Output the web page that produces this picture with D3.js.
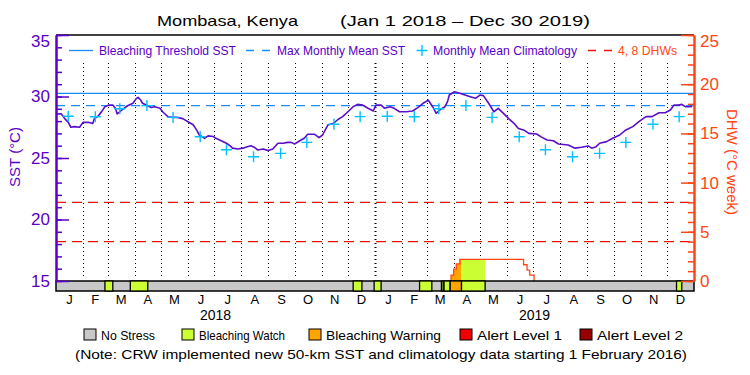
<!DOCTYPE html>
<html>
<head>
<meta charset="utf-8">
<script src="https://cdn.jsdelivr.net/npm/d3@7"></script>
<style>
body { margin: 0; background: #ffffff; }
svg { display: block; font-family: "Liberation Sans", "DejaVu Sans", sans-serif; }
</style>
</head>
<body>
<div id="canvas"></div>
<script>
"use strict"

/* Data */
let monthLabels = ["J", "F", "M", "A", "M", "J", "J", "A", "S", "O", "N", "D"];
let yearLabels = ["2018", "2019"];

// Daily SST curve, sampled every few days
let sstDates = [
  "2018-01-01","2018-01-07","2018-01-11","2018-01-15","2018-01-18","2018-01-22","2018-01-28",
  "2018-02-01","2018-02-07","2018-02-12","2018-02-14","2018-02-18","2018-02-22","2018-02-26",
  "2018-03-02","2018-03-07","2018-03-10","2018-03-12","2018-03-15","2018-03-19","2018-03-24","2018-03-30",
  "2018-04-03","2018-04-05","2018-04-08","2018-04-10","2018-04-16","2018-04-20","2018-04-24","2018-04-30",
  "2018-05-03","2018-05-09","2018-05-15","2018-05-20","2018-05-26",
  "2018-06-01","2018-06-07","2018-06-11","2018-06-14","2018-06-20","2018-06-24","2018-06-30",
  "2018-07-03","2018-07-09","2018-07-15","2018-07-19","2018-07-22","2018-07-28",
  "2018-08-03","2018-08-07","2018-08-12","2018-08-16","2018-08-20","2018-08-26",
  "2018-09-01","2018-09-06","2018-09-12","2018-09-18","2018-09-23","2018-09-27",
  "2018-10-01","2018-10-07","2018-10-12","2018-10-16","2018-10-24","2018-10-29",
  "2018-11-02","2018-11-08","2018-11-14","2018-11-20","2018-11-25",
  "2018-12-01","2018-12-07","2018-12-12","2018-12-18","2018-12-24","2018-12-30",
  "2019-01-02","2019-01-08","2019-01-12","2019-01-18","2019-01-23","2019-01-29",
  "2019-02-06","2019-02-13","2019-02-19","2019-02-25",
  "2019-03-03","2019-03-08","2019-03-12","2019-03-16","2019-03-22","2019-03-25","2019-03-27",
  "2019-04-02","2019-04-08","2019-04-14","2019-04-20","2019-04-26",
  "2019-05-01","2019-05-05","2019-05-11","2019-05-17","2019-05-22","2019-05-28",
  "2019-06-03","2019-06-09","2019-06-14","2019-06-20","2019-06-26",
  "2019-07-05","2019-07-11","2019-07-17","2019-07-24","2019-07-30",
  "2019-08-10","2019-08-18","2019-08-25",
  "2019-09-02","2019-09-06","2019-09-11","2019-09-15","2019-09-23","2019-09-30",
  "2019-10-08","2019-10-15","2019-10-23","2019-10-30",
  "2019-11-07","2019-11-14","2019-11-22","2019-11-29",
  "2019-12-05","2019-12-09","2019-12-14","2019-12-18","2019-12-22","2019-12-26","2019-12-30"
];
let sstValues = [
  28.58, 28.6, 28.2, 27.9, 27.5, 27.55, 27.5,
  27.9, 27.9, 27.8, 28.2, 28.4, 28.75, 29.17,
  29.3, 29.3, 29.04, 28.58, 28.76, 29.0, 29.25, 29.45,
  29.85, 29.93, 29.7, 29.45, 29.25, 29.1, 29.17, 29.04,
  28.76, 28.36, 28.3, 28.3, 28.2,
  27.95, 27.7, 27.27, 26.87, 26.6, 26.8, 26.75,
  26.6, 26.4, 26.2, 26.0, 25.8, 25.73,
  25.8, 25.9, 26.0, 25.87, 25.65, 25.73,
  25.6, 25.73, 26.2, 26.2, 26.27, 26.27,
  26.14, 26.4, 26.6, 26.93, 26.93, 26.65,
  26.87, 27.68, 27.8, 28.15, 28.36,
  28.76, 29.17, 29.36, 29.3, 29.04, 28.82,
  29.3, 29.3, 29.04, 29.17, 29.04, 28.76,
  28.76, 28.82, 29.1, 29.45,
  29.7, 29.17, 28.63, 28.9, 29.17, 29.58, 30.12,
  30.39, 30.26, 30.12, 29.98, 29.85,
  30.12, 30.07, 29.45, 28.76, 29.04, 28.63,
  28.2, 27.82, 27.4, 27.28, 27.0,
  26.95, 26.68, 26.46, 26.4, 26.14,
  26.06, 25.8, 25.87,
  25.98, 25.8, 25.92, 26.2, 26.33, 26.6,
  26.87, 27.28, 27.55, 27.95,
  28.36, 28.36, 28.68, 28.68,
  28.9, 29.3, 29.3, 29.36, 29.17, 29.17, 29.2
];

// Monthly mean climatology (Jan..Dec), plotted mid-month in both years
let climValues = [28.4, 28.35, 29.0, 29.26, 28.3, 26.73, 25.67, 25.1, 25.38, 26.27, 27.74, 28.36];
let maxMonthlyMean = 29.26;
let bleachingThreshold = 30.26;
let dhwLevels = [4, 8];

// Degree heating weeks (step line), only where it is above zero
let dhwDates = ["2019-03-29","2019-03-29","2019-04-01","2019-04-04","2019-04-08","2019-06-20","2019-06-24","2019-06-27","2019-07-02"];
let dhwValues = [0, 0.6, 1.2, 1.75, 2.2, 1.65, 1.1, 0.6, 0];

// Stress level periods (everything else is "No Stress")
let stressNames = ["No Stress", "Bleaching Watch", "Bleaching Warning", "Alert Level 1", "Alert Level 2"];
let stressColors = ["#c8c8c8", "#ccff33", "#ffa500", "#f00000", "#960000"];
let stressStart = ["2018-02-26","2018-03-27","2018-12-07","2018-12-31","2019-02-21","2019-03-18","2019-03-21","2019-03-28","2019-04-10","2019-12-12"];
let stressEnd   = ["2018-03-07","2018-04-16","2018-12-17","2019-01-08","2019-03-07","2019-03-20","2019-03-28","2019-04-10","2019-05-07","2019-12-18"];
let stressLevel = [1, 1, 1, 1, 1, 1, 1, 2, 1, 1];

/* Drawing configuration */
let svgWidth = 750;
let svgHeight = 375;
let plot = { left: 56, right: 694, top: 35, bottom: 281, barBottom: 291 };

let sstColor = "#5a0fc8";
let textPurple = "#5c00c8";
let dhwColor = "#ff4614";
let blueLine = "#1a8cff";
let climColor = "#00c0ff";

let parse = d3.timeParse("%Y-%m-%d");

let svg = d3.select("#canvas")
    .append("svg")
    .attr("width", svgWidth)
    .attr("height", svgHeight);

svg.append("rect")
    .attr("width", svgWidth)
    .attr("height", svgHeight)
    .attr("fill", "#ffffff");

/* Scales */
let xScale = d3.scaleTime()
    .domain([parse("2018-01-01"), parse("2020-01-01")])
    .range([plot.left, plot.right]);

let yScale = d3.scaleLinear()
    .domain([15, 35])
    .range([plot.bottom, plot.top]);

let dhwScale = d3.scaleLinear()
    .domain([0, 25])
    .range([plot.bottom, plot.top]);

/* Title */
svg.append("text")
    .attr("x", 157).attr("y", 26)
    .attr("font-size", 14.5)
    .attr("textLength", 141).attr("lengthAdjust", "spacingAndGlyphs")
    .text("Mombasa, Kenya");
svg.append("text")
    .attr("x", 340).attr("y", 26)
    .attr("font-size", 14.5)
    .attr("textLength", 250).attr("lengthAdjust", "spacingAndGlyphs")
    .text("(Jan 1 2018 \u2013 Dec 30 2019)");

/* Dotted month lines */
let monthStarts = d3.timeMonth.range(parse("2018-02-01"), parse("2020-01-01"));
svg.selectAll("line.month")
    .data(monthStarts)
    .join("line")
    .attr("class", "month")
    .attr("x1", d => Math.round(xScale(d)) + 0.5)
    .attr("x2", d => Math.round(xScale(d)) + 0.5)
    .attr("y1", 63)
    .attr("y2", 278)
    .attr("stroke", "black")
    .attr("stroke-width", d => d.getMonth() === 0 ? 2 : 1)
    .attr("stroke-dasharray", "1,3");

/* Threshold lines */
svg.append("line")
    .attr("x1", plot.left).attr("x2", plot.right)
    .attr("y1", yScale(bleachingThreshold)).attr("y2", yScale(bleachingThreshold))
    .attr("stroke", blueLine).attr("stroke-width", 1.3);
svg.append("line")
    .attr("x1", plot.left).attr("x2", plot.right)
    .attr("y1", yScale(maxMonthlyMean)).attr("y2", yScale(maxMonthlyMean))
    .attr("stroke", blueLine).attr("stroke-width", 1.3)
    .attr("stroke-dasharray", "9,6");

svg.selectAll("line.dhwlevel")
    .data(dhwLevels)
    .join("line")
    .attr("class", "dhwlevel")
    .attr("x1", plot.left).attr("x2", plot.right)
    .attr("y1", d => dhwScale(d)).attr("y2", d => dhwScale(d))
    .attr("stroke", "#ee1111").attr("stroke-width", 1.3)
    .attr("stroke-dasharray", "10,6");

/* Stress periods table */
let periods = stressStart.map(function (s, i) {
    return { start: parse(s), end: parse(stressEnd[i]), level: stressLevel[i] };
});

/* DHW fill coloured by stress level, then DHW line */
let dhwData = dhwDates.map(function (d, i) {
    return { date: parse(d), value: dhwValues[i] };
});
let dhwArea = d3.area()
    .curve(d3.curveStepAfter)
    .x(d => xScale(d.date))
    .y0(dhwScale(0))
    .y1(d => dhwScale(d.value));

periods.forEach(function (p, i) {
    svg.append("clipPath")
        .attr("id", "clip" + i)
        .append("rect")
        .attr("x", xScale(p.start))
        .attr("y", plot.top)
        .attr("width", xScale(p.end) - xScale(p.start))
        .attr("height", plot.bottom - plot.top);
    svg.append("path")
        .datum(dhwData)
        .attr("clip-path", "url(#clip" + i + ")")
        .attr("fill", stressColors[p.level])
        .attr("d", dhwArea);
});

svg.append("path")
    .datum(dhwData)
    .attr("fill", "none")
    .attr("stroke", dhwColor)
    .attr("stroke-width", 1.3)
    .attr("d", d3.line().curve(d3.curveStepAfter)
        .x(d => xScale(d.date))
        .y(d => dhwScale(d.value)));

/* SST curve */
let sstData = sstDates.map(function (d, i) {
    return { date: parse(d), value: sstValues[i] };
});
svg.append("path")
    .datum(sstData)
    .attr("fill", "none")
    .attr("stroke", sstColor)
    .attr("stroke-width", 1.6)
    .attr("stroke-linejoin", "round")
    .attr("d", d3.line()
        .x(d => xScale(d.date))
        .y(d => yScale(d.value)));

/* Climatology crosses, mid-month in each year */
let climData = [];
yearLabels.forEach(function (yr) {
    climValues.forEach(function (v, m) {
        climData.push({ date: new Date(+yr, m, 15), value: v });
    });
});
svg.selectAll("path.clim")
    .data(climData)
    .join("path")
    .attr("class", "clim")
    .attr("transform", d => "translate(" + xScale(d.date) + "," + yScale(d.value) + ")")
    .attr("d", "M-5.5,0H5.5M0,-5.5V5.5")
    .attr("stroke", climColor)
    .attr("stroke-width", 1.4);

/* Stress bar */
svg.append("rect")
    .attr("x", plot.left).attr("y", plot.bottom)
    .attr("width", plot.right - plot.left)
    .attr("height", plot.barBottom - plot.bottom)
    .attr("fill", stressColors[0])
    .attr("stroke", "black")
    .attr("stroke-width", 1.5);
svg.selectAll("rect.stress")
    .data(periods)
    .join("rect")
    .attr("class", "stress")
    .attr("x", d => xScale(d.start))
    .attr("y", plot.bottom)
    .attr("width", d => xScale(d.end) - xScale(d.start))
    .attr("height", plot.barBottom - plot.bottom)
    .attr("fill", d => stressColors[d.level])
    .attr("stroke", "black")
    .attr("stroke-width", 1.3);

/* Frame top */
svg.append("line")
    .attr("x1", plot.left).attr("x2", plot.right)
    .attr("y1", plot.top).attr("y2", plot.top)
    .attr("stroke", "black").attr("stroke-width", 1.5);

/* Left SST axis: ticks point into the plot */
let leftMinor = svg.append("g")
    .attr("transform", "translate(" + plot.left + ",0)")
    .call(d3.axisLeft(yScale).tickValues(d3.range(15, 36)).tickSizeInner(-6).tickSizeOuter(0).tickFormat(""));
let leftMajor = svg.append("g")
    .attr("transform", "translate(" + plot.left + ",0)")
    .call(d3.axisLeft(yScale).tickValues([15, 20, 25, 30, 35]).tickSizeInner(-13).tickSizeOuter(0).tickPadding(6));
[leftMinor, leftMajor].forEach(function (g) {
    g.select(".domain").attr("stroke", textPurple).attr("stroke-width", 2);
    g.selectAll(".tick line").attr("stroke", textPurple).attr("stroke-width", 1.5);
});
leftMajor.selectAll("text")
    .attr("fill", textPurple)
    .attr("font-size", 17)
    .attr("font-family", "Liberation Sans, sans-serif")
    .attr("transform", d => d === 35 ? "translate(0,6)" : null);

/* Right DHW axis */
let rightMinor = svg.append("g")
    .attr("transform", "translate(" + plot.right + ",0)")
    .call(d3.axisRight(dhwScale).tickValues(d3.range(0, 26)).tickSizeInner(-6).tickSizeOuter(0).tickFormat(""));
let rightMajor = svg.append("g")
    .attr("transform", "translate(" + plot.right + ",0)")
    .call(d3.axisRight(dhwScale).tickValues([0, 5, 10, 15, 20, 25]).tickSizeInner(-13).tickSizeOuter(0).tickPadding(6));
[rightMinor, rightMajor].forEach(function (g) {
    g.select(".domain").attr("stroke", dhwColor).attr("stroke-width", 2);
    g.selectAll(".tick line").attr("stroke", dhwColor).attr("stroke-width", 1.5);
});
rightMajor.selectAll("text")
    .attr("fill", dhwColor)
    .attr("font-size", 17)
    .attr("font-family", "Liberation Sans, sans-serif")
    .attr("transform", d => d === 25 ? "translate(0,6)" : null);

/* Axis titles */
svg.append("text")
    .attr("transform", "translate(20," + 157 + ") rotate(-90)")
    .attr("text-anchor", "middle")
    .attr("font-size", 15)
    .attr("fill", textPurple)
    .text("SST (\u00B0C)");
svg.append("text")
    .attr("transform", "translate(727," + 162 + ") rotate(90)")
    .attr("text-anchor", "middle")
    .attr("font-size", 15)
    .attr("fill", dhwColor)
    .text("DHW (\u00B0C week)");

/* Month and year labels */
let monthMids = [];
yearLabels.forEach(function (yr) {
    monthLabels.forEach(function (lab, m) {
        let a = new Date(+yr, m, 1);
        let b = new Date(+yr, m + 1, 1);
        monthMids.push({ label: lab, date: new Date((+a + +b) / 2) });
    });
});
svg.selectAll("text.month")
    .data(monthMids)
    .join("text")
    .attr("class", "month")
    .attr("x", d => xScale(d.date))
    .attr("y", 304)
    .attr("text-anchor", "middle")
    .attr("font-size", 13)
    .text(d => d.label);

svg.selectAll("text.year")
    .data(yearLabels)
    .join("text")
    .attr("class", "year")
    .attr("x", d => (xScale(new Date(+d, 0, 1)) + xScale(new Date(+d + 1, 0, 1))) / 2)
    .attr("y", 320)
    .attr("text-anchor", "middle")
    .attr("font-size", 14)
    .text(d => d);

/* Top legend */
let legendY = 50.5;
let legendText = 55;
svg.append("line")
    .attr("x1", 69).attr("x2", 93).attr("y1", legendY).attr("y2", legendY)
    .attr("stroke", blueLine).attr("stroke-width", 1.3);
svg.append("text")
    .attr("x", 99).attr("y", legendText).attr("font-size", 13).attr("fill", textPurple)
    .attr("textLength", 137).attr("lengthAdjust", "spacingAndGlyphs")
    .text("Bleaching Threshold SST");
svg.append("line")
    .attr("x1", 246).attr("x2", 271).attr("y1", legendY).attr("y2", legendY)
    .attr("stroke", blueLine).attr("stroke-width", 1.3).attr("stroke-dasharray", "8,8");
svg.append("text")
    .attr("x", 277).attr("y", legendText).attr("font-size", 13).attr("fill", textPurple)
    .attr("textLength", 128).attr("lengthAdjust", "spacingAndGlyphs")
    .text("Max Monthly Mean SST");
svg.append("path")
    .attr("transform", "translate(422," + legendY + ")")
    .attr("d", "M-5.5,0H5.5M0,-5.5V5.5")
    .attr("stroke", climColor).attr("stroke-width", 1.4);
svg.append("text")
    .attr("x", 433).attr("y", legendText).attr("font-size", 13).attr("fill", textPurple)
    .attr("textLength", 144).attr("lengthAdjust", "spacingAndGlyphs")
    .text("Monthly Mean Climatology");
svg.append("line")
    .attr("x1", 588).attr("x2", 612).attr("y1", legendY).attr("y2", legendY)
    .attr("stroke", "#ee1111").attr("stroke-width", 1.3).attr("stroke-dasharray", "8,8");
svg.append("text")
    .attr("x", 618).attr("y", legendText).attr("font-size", 13).attr("fill", dhwColor)
    .attr("textLength", 59).attr("lengthAdjust", "spacingAndGlyphs")
    .text("4, 8 DHWs");

/* Bottom stress legend */
let keyBoxX = [84, 182, 309, 460, 580];
let keyTextLen = [54, 86, 115, 85, 86];
stressNames.forEach(function (name, i) {
    svg.append("rect")
        .attr("x", keyBoxX[i]).attr("y", 329)
        .attr("width", 12).attr("height", 11)
        .attr("fill", stressColors[i])
        .attr("stroke", "black").attr("stroke-width", 1);
    svg.append("text")
        .attr("x", keyBoxX[i] + 17).attr("y", 339.5)
        .attr("font-size", 13)
        .attr("textLength", keyTextLen[i]).attr("lengthAdjust", "spacingAndGlyphs")
        .text(name);
});

svg.append("text")
    .attr("x", 75).attr("y", 359)
    .attr("font-size", 13)
    .attr("textLength", 612).attr("lengthAdjust", "spacingAndGlyphs")
    .text("(Note: CRW implemented new 50-km SST and climatology data starting 1 February 2016)");
</script>
</body>
</html>
